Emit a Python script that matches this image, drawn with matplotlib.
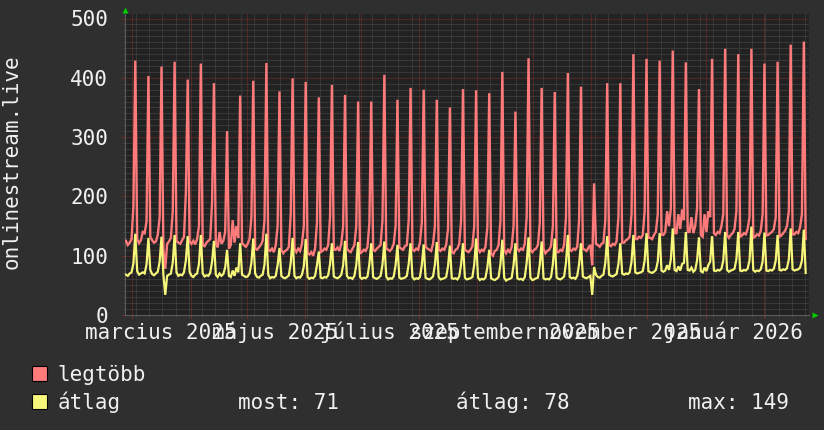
import numpy as np
import matplotlib
matplotlib.use("Agg")
import matplotlib.pyplot as plt
import matplotlib.dates as mdates
import matplotlib.transforms as mtransforms
from matplotlib.ticker import MultipleLocator, NullFormatter
from matplotlib.patches import Rectangle

# ---------------- data ----------------
start_day = "2025-02-25"          # first day (Tuesday)
view_start = "2025-02-25"
view_end = "2026-02-25"

# one row per week: [Tue, Wed, Thu, Fri, Sat, Sun, Mon]
legtobb_weeks = [
    [125, 118, 122, 128, 183, 429, 128],
    [121, 126, 140, 138, 158, 403, 132],
    [126, 122, 124, 135, 165, 419, 110],
    [78, 120, 124, 130, 175, 427, 125],
    [122, 120, 126, 132, 206, 397, 124],
    [120, 125, 119, 128, 150, 424, 118],
    [116, 122, 125, 128, 190, 391, 120],
    [114, 140, 120, 125, 140, 310, 112],
    [118, 160, 122, 150, 130, 370, 121],
    [118, 115, 120, 128, 165, 395, 112],
    [110, 114, 118, 125, 160, 425, 110],
    [108, 112, 106, 118, 150, 377, 110],
    [104, 108, 110, 115, 170, 399, 112],
    [106, 112, 108, 120, 150, 393, 104],
    [102, 106, 100, 112, 155, 367, 106],
    [108, 112, 110, 118, 165, 388, 110],
    [110, 114, 108, 120, 150, 371, 112],
    [108, 106, 112, 118, 150, 360, 104],
    [106, 110, 108, 115, 155, 360, 110],
    [108, 112, 115, 118, 160, 405, 112],
    [110, 108, 112, 120, 150, 363, 114],
    [112, 110, 116, 118, 160, 383, 110],
    [108, 112, 110, 122, 155, 380, 115],
    [112, 110, 108, 120, 150, 363, 110],
    [108, 112, 110, 118, 145, 350, 106],
    [104, 110, 112, 120, 160, 381, 110],
    [108, 106, 110, 116, 150, 379, 112],
    [106, 110, 108, 115, 148, 374, 104],
    [100, 108, 110, 118, 160, 410, 110],
    [104, 110, 106, 115, 150, 343, 112],
    [108, 112, 110, 120, 165, 433, 110],
    [106, 110, 112, 118, 155, 383, 112],
    [104, 108, 110, 116, 150, 376, 106],
    [106, 110, 108, 118, 165, 408, 110],
    [108, 112, 110, 115, 160, 385, 112],
    [110, 108, 114, 118, 84, 222, 120],
    [118, 115, 120, 122, 160, 391, 118],
    [116, 120, 118, 124, 165, 391, 122],
    [122, 126, 128, 132, 170, 440, 128],
    [128, 132, 130, 135, 175, 432, 130],
    [130, 128, 135, 140, 170, 429, 135],
    [135, 140, 175, 150, 180, 446, 138],
    [138, 170, 145, 178, 160, 426, 140],
    [140, 165, 138, 150, 180, 381, 135],
    [132, 170, 140, 175, 165, 432, 138],
    [135, 140, 138, 150, 170, 449, 135],
    [130, 135, 138, 145, 175, 440, 132],
    [134, 138, 136, 145, 165, 449, 130],
    [132, 136, 134, 142, 170, 424, 134],
    [135, 138, 140, 145, 165, 427, 132],
    [134, 138, 142, 150, 175, 456, 136],
    [136, 140, 138, 148, 170, 461, 128],
]

atlag_weeks = [
    [68, 66, 70, 72, 87, 137, 74],
    [68, 70, 72, 70, 85, 130, 76],
    [69, 67, 70, 73, 90, 132, 68],
    [34, 66, 68, 70, 88, 135, 72],
    [66, 68, 67, 72, 92, 133, 73],
    [66, 64, 68, 70, 86, 135, 70],
    [65, 67, 66, 71, 90, 125, 68],
    [64, 70, 66, 69, 80, 110, 66],
    [64, 75, 66, 80, 72, 121, 68],
    [66, 64, 65, 70, 88, 129, 70],
    [64, 63, 66, 68, 85, 137, 68],
    [62, 64, 63, 66, 84, 113, 66],
    [63, 62, 64, 67, 88, 130, 66],
    [62, 64, 63, 68, 82, 128, 64],
    [61, 63, 62, 66, 84, 107, 63],
    [62, 64, 63, 67, 86, 121, 65],
    [63, 62, 64, 68, 84, 125, 66],
    [62, 63, 61, 66, 84, 123, 64],
    [61, 63, 62, 65, 86, 121, 64],
    [62, 61, 63, 66, 85, 124, 65],
    [60, 62, 61, 65, 84, 118, 63],
    [61, 62, 63, 66, 86, 121, 64],
    [60, 62, 61, 64, 84, 119, 63],
    [61, 60, 62, 65, 85, 123, 64],
    [60, 61, 62, 64, 82, 117, 62],
    [61, 62, 60, 65, 86, 121, 63],
    [60, 61, 62, 64, 85, 129, 63],
    [59, 61, 60, 63, 80, 110, 62],
    [60, 59, 61, 64, 86, 127, 63],
    [58, 60, 61, 63, 84, 121, 62],
    [60, 61, 59, 64, 88, 131, 63],
    [59, 60, 62, 63, 85, 124, 62],
    [60, 61, 60, 64, 86, 129, 63],
    [61, 60, 62, 65, 88, 135, 64],
    [62, 63, 61, 66, 86, 121, 65],
    [63, 62, 64, 66, 34, 81, 68],
    [64, 63, 66, 68, 88, 133, 68],
    [66, 65, 67, 69, 86, 121, 70],
    [68, 70, 69, 72, 90, 135, 72],
    [70, 71, 72, 74, 92, 138, 74],
    [72, 71, 73, 76, 90, 138, 75],
    [73, 75, 84, 76, 94, 146, 76],
    [74, 82, 75, 86, 88, 140, 76],
    [75, 80, 73, 76, 92, 131, 74],
    [72, 80, 74, 84, 90, 133, 75],
    [74, 76, 75, 78, 92, 140, 76],
    [73, 75, 76, 78, 94, 140, 75],
    [74, 76, 75, 78, 92, 149, 76],
    [73, 75, 74, 77, 90, 139, 75],
    [74, 76, 75, 78, 92, 135, 76],
    [75, 77, 76, 79, 94, 146, 77],
    [75, 76, 77, 80, 92, 144, 71],
]

month_label_texts = ["marcius 2025", "május 2025", "július 2025",
                     "szeptember 2025", "november 2025", "január 2026"]
month_label_starts = ["2025-03", "2025-05", "2025-07", "2025-09", "2025-11", "2026-01"]

y_label = "onlinestream.live"
series_names = ["legtöbb", "átlag"]
stat_texts = ["most: 71", "átlag: 78", "max: 149"]

# ---------------- style ----------------
W, H = 824, 430
BG = "#2f2f2f"
CANVAS = "#222222"
FG = "#f0f0f0"
RED = "#ff7b7b"
YEL = "#f6f67a"
MINOR = "#4c4c4c"
MAJOR = "#822c2c"
FONT = "DejaVu Sans Mono"
FS = 15

plt.rcParams["font.family"] = [FONT, "DejaVu Sans"]

fig = plt.figure(figsize=(W / 100, H / 100), dpi=100, facecolor=BG)
L, R, T, B = 125, 808.5, 14, 315
ax = fig.add_axes([L / W, 1 - B / H, (R - L) / W, (B - T) / H], facecolor=CANVAS)

mx = np.array(legtobb_weeks, dtype=float).ravel()
av = np.array(atlag_weeks, dtype=float).ravel()
days = (np.datetime64(start_day + "T12:00") +
        (np.arange(len(mx)) * 24).astype("timedelta64[h]"))

ax.plot(days, mx, color=RED, lw=1.7, zorder=3, solid_joinstyle="miter")
ax.plot(days, av, color=YEL, lw=1.6, zorder=4, solid_joinstyle="miter")

ax.set_xlim(np.datetime64(view_start), np.datetime64(view_end))
ax.set_ylim(0, 500 * (B - T) / (B - 18.5))

# grids
ax.xaxis.set_major_locator(mdates.MonthLocator())
ax.xaxis.set_minor_locator(mdates.WeekdayLocator(byweekday=mdates.MO))
ax.xaxis.set_major_formatter(NullFormatter())
ax.yaxis.set_major_locator(MultipleLocator(100))
ax.yaxis.set_minor_locator(MultipleLocator(10))
ax.grid(which="minor", color=MINOR, lw=0.72, ls=(0, (1, 1)), zorder=1)
ax.grid(which="major", color=MAJOR, lw=0.72, ls=(0, (1, 1)), zorder=2)
ax.set_axisbelow(True)

for s in ["top", "right"]:
    ax.spines[s].set_visible(False)
for s in ["left", "bottom"]:
    ax.spines[s].set_color("#5a5a5a")
    ax.spines[s].set_linewidth(0.8)

ax.tick_params(which="major", length=2.2, width=0.72, color=MAJOR,
               labelcolor=FG, labelsize=FS)
ax.tick_params(which="minor", length=1.5, width=0.72, color=MINOR)
ax.tick_params(axis="y", which="major", pad=10)
ax.set_yticks(np.arange(0, 501, 100))
for lab in ax.get_yticklabels():
    lab.set_fontfamily(FONT)

# month labels centred in the middle of their month
tr = mtransforms.blended_transform_factory(ax.transData, ax.transAxes)
for txt, ms in zip(month_label_texts, month_label_starts):
    m0 = np.datetime64(ms, "D")
    m1 = np.datetime64(np.datetime64(ms, "M") + 1, "D")
    mid = m0 + (m1 - m0) / 2
    ax.text(mid, -(339 - B) / (B - T), txt, transform=tr, ha="center",
            va="baseline", color=FG, fontsize=FS, family=FONT, clip_on=False)

# axis arrows
ax.plot([0], [(B - 10) / (B - T)], marker="^", ms=4, color="#00cc00",
        transform=ax.transAxes, clip_on=False, zorder=6, mec="none")
ax.plot([(815 - L) / (R - L)], [0], marker=">", ms=4, color="#00cc00",
        transform=ax.transAxes, clip_on=False, zorder=6, mec="none")

# y label
fig.text(12 / W, 1 - 162 / H, y_label, rotation=90, ha="center", va="center",
         color=FG, fontsize=FS, family=FONT)

# legend
rows = [(381, RED, series_names[0]), (409, YEL, series_names[1])]
for base, col, name in rows:
    fig.patches.append(Rectangle((32 / W, 1 - base / H), 15 / W, 15 / H,
                                 transform=fig.transFigure, facecolor=col,
                                 edgecolor="black", lw=0.8))
    fig.text(57.5 / W, 1 - base / H, name, ha="left", va="baseline",
             color=FG, fontsize=FS, family=FONT)
for xpos, txt in zip([238.5, 456.3, 687.7], stat_texts):
    fig.text(xpos / W, 1 - 409 / H, txt, ha="left", va="baseline",
             color=FG, fontsize=FS, family=FONT)

fig.savefig("out.png", dpi=100, facecolor=BG)
